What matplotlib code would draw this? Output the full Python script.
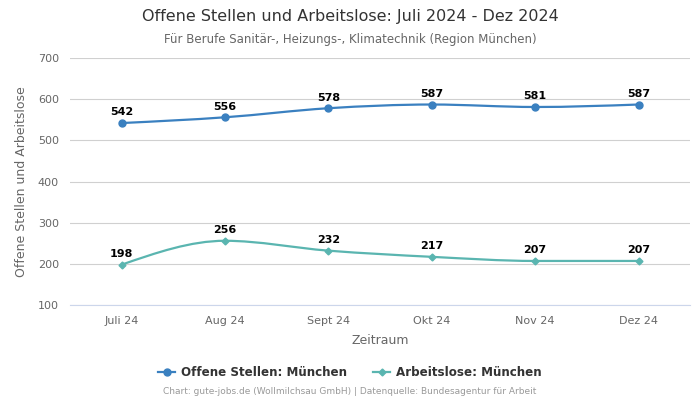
import numpy as np
import matplotlib
matplotlib.use('Agg')
import matplotlib.pyplot as plt
from matplotlib.path import Path
from matplotlib.patches import PathPatch

months = ['Juli 24', 'Aug 24', 'Sept 24', 'Okt 24', 'Nov 24', 'Dez 24']
offene = [542, 556, 578, 587, 581, 587]
arbeitslose = [198, 256, 232, 217, 207, 207]

blue = '#3a80c0'
teal = '#5ab5b0'

plt.rcParams['font.family'] = ['DejaVu Sans']


def monotone_path(x, y):
    # monotone cubic (like d3 curveMonotoneX) as bezier segments
    x = np.asarray(x, float)
    y = np.asarray(y, float)
    n = len(x)
    h = np.diff(x)
    s = np.diff(y) / h
    t = np.zeros(n)
    for i in range(1, n - 1):
        p = (s[i - 1] * h[i] + s[i] * h[i - 1]) / (h[i - 1] + h[i])
        t[i] = (np.sign(s[i - 1]) + np.sign(s[i])) * min(abs(s[i - 1]), abs(s[i]), 0.5 * abs(p))
    t[0] = (3 * s[0] - t[1]) / 2
    t[-1] = (3 * s[-1] - t[-2]) / 2
    verts = [(x[0], y[0])]
    codes = [Path.MOVETO]
    for i in range(n - 1):
        d = h[i] / 3
        verts += [(x[i] + d, y[i] + d * t[i]), (x[i + 1] - d, y[i + 1] - d * t[i + 1]), (x[i + 1], y[i + 1])]
        codes += [Path.CURVE4] * 3
    return Path(verts, codes)


fig = plt.figure(figsize=(7, 4), dpi=100)
ax = fig.add_axes([0.1, 0.2375, 0.886, 0.6175])

xs = np.arange(len(months))
for vals, col, mk, ms, lab in [(offene, blue, 'o', 5, 'Offene Stellen: München'),
                               (arbeitslose, teal, 'D', 3.5, 'Arbeitslose: München')]:
    ax.add_patch(PathPatch(monotone_path(xs, vals), facecolor='none', edgecolor=col, lw=1.6, zorder=3))
    ax.plot(xs, vals, linestyle='none', marker=mk, color=col, markersize=ms, zorder=4)
    ax.plot([], [], color=col, marker=mk, markersize=ms, lw=1.6, label=lab)
    for xi, v in zip(xs, vals):
        ax.annotate(str(v), (xi, v), textcoords='offset points', xytext=(0, 4),
                    ha='center', va='bottom', fontsize=8, fontweight='bold', color='black')

ax.set_xlim(-0.5, len(months) - 0.5)
ax.set_ylim(100, 700)
ax.set_yticks(range(100, 701, 100))
ax.set_xticks(xs)
ax.set_xticklabels(months)
ax.grid(axis='y', color='#d0d0d0', lw=0.8)
ax.set_axisbelow(True)
for sp in ['top', 'right', 'left']:
    ax.spines[sp].set_visible(False)
ax.spines['bottom'].set_color('#ccd6eb')
ax.tick_params(axis='both', length=0, labelsize=8, colors='#666666', pad=8)
ax.set_xlabel('Zeitraum', fontsize=9, color='#666666', labelpad=6)
ax.set_ylabel('Offene Stellen und Arbeitslose', fontsize=9, color='#666666', labelpad=7)

fig.text(0.5, 0.958, 'Offene Stellen und Arbeitslose: Juli 2024 - Dez 2024', ha='center', va='center',
         fontsize=11.5, color='#333333')
fig.text(0.5, 0.902, 'Für Berufe Sanitär-, Heizungs-, Klimatechnik (Region München)', ha='center',
         va='center', fontsize=8.5, color='#666666')
fig.legend(loc='center', bbox_to_anchor=(0.5, 0.068), ncol=2, frameon=False,
           prop={'weight': 'bold', 'size': 8.6}, labelcolor='#333333', handlelength=1.4,
           handletextpad=0.5, columnspacing=2.2)
fig.text(0.5, 0.02, 'Chart: gute-jobs.de (Wollmilchsau GmbH) | Datenquelle: Bundesagentur für Arbeit',
         ha='center', va='center', fontsize=6.5, color='#999999')

fig.savefig('out.png', dpi=100)
